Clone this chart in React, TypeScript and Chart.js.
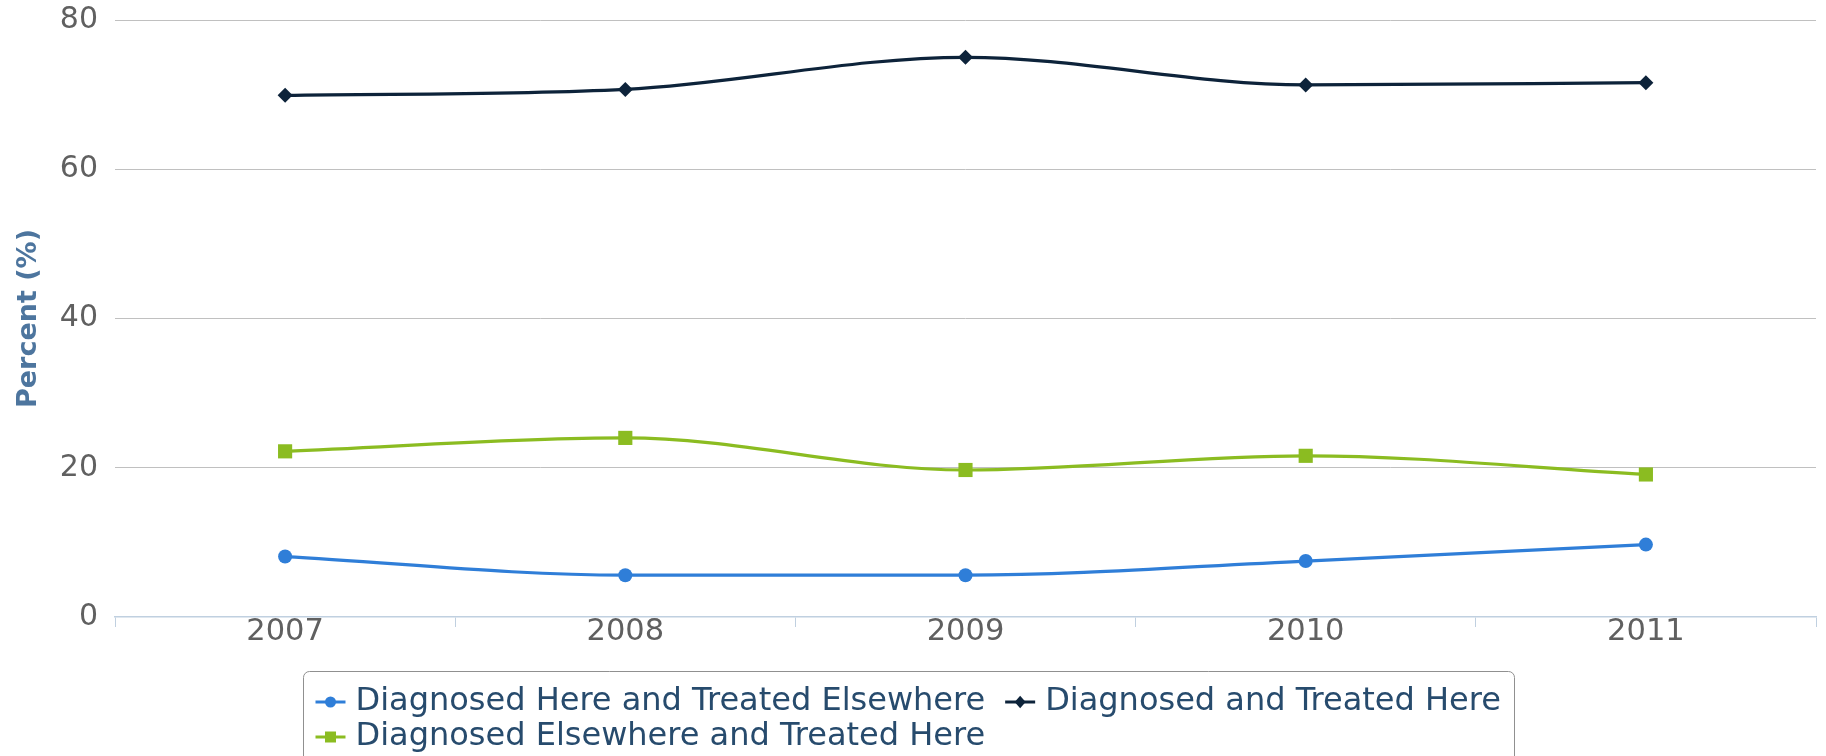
import React, { useEffect, useRef } from "react";
import { Chart, registerables } from "chart.js";

Chart.register(...registerables);

const years = ["2007", "2008", "2009", "2010", "2011"];
const hereElsewhere = [8.1, 5.6, 5.6, 7.5, 9.7];
const hereHere = [69.9, 70.7, 75.0, 71.3, 71.6];
const elsewhereHere = [22.2, 24.0, 19.7, 21.6, 19.1];
const seriesNames = [
  "Diagnosed Here and Treated Elsewhere",
  "Diagnosed and Treated Here",
  "Diagnosed Elsewhere and Treated Here",
];
const seriesColors = ["#2f7ed8", "#0d233a", "#8bbc21"];
const seriesStyles = ["circle", "rectRot", "rect"];
const yTicks = [0, 20, 40, 60, 80];

const FONT = '"DejaVu Sans", Verdana, sans-serif';

function drawMarker(ctx: CanvasRenderingContext2D, style: string, x: number, y: number, r: number) {
  ctx.beginPath();
  if (style === "circle") {
    ctx.arc(x, y, r, 0, Math.PI * 2);
  } else if (style === "rectRot") {
    ctx.moveTo(x - r, y);
    ctx.lineTo(x, y - r * 1.15);
    ctx.lineTo(x + r, y);
    ctx.lineTo(x, y + r * 1.15);
    ctx.closePath();
  } else {
    ctx.rect(x - r, y - r, 2 * r, 2 * r);
  }
  ctx.fill();
}

const boxLegend = {
  id: "boxLegend",
  afterDraw(chart: any) {
    const ctx: CanvasRenderingContext2D = chart.ctx;
    const left = chart.chartArea.left;
    ctx.save();
    const bx = left + 188.5;
    const by = 671.5;
    ctx.beginPath();
    (ctx as any).roundRect(bx, by, 1211, 110, 6);
    ctx.strokeStyle = "#909090";
    ctx.lineWidth = 1;
    ctx.stroke();
    ctx.font = "32px " + FONT;
    ctx.textBaseline = "middle";
    ctx.textAlign = "left";
    const rows = [[0, 1], [2]];
    const rowY = [702, 737];
    rows.forEach((row, ri) => {
      let x = bx + 10;
      row.forEach((di) => {
        const ds = chart.data.datasets[di];
        const y = rowY[ri];
        ctx.strokeStyle = ds.borderColor;
        ctx.fillStyle = ds.borderColor;
        ctx.lineWidth = 3;
        ctx.beginPath();
        ctx.moveTo(x + 2, y);
        ctx.lineTo(x + 32, y);
        ctx.stroke();
        drawMarker(ctx, ds.pointStyle, x + 17, y, 5.5);
        ctx.fillStyle = "#274b6d";
        ctx.fillText(ds.label, x + 42, y);
        x += 42 + ctx.measureText(ds.label).width + 18;
      });
    });
    ctx.restore();
  },
};

export default function App() {
  const ref = useRef<HTMLCanvasElement>(null);
  useEffect(() => {
    if (!ref.current) return;
    const values = [hereElsewhere, hereHere, elsewhereHere];
    const chart = new Chart(ref.current, {
      type: "line",
      data: {
        labels: years,
        datasets: values.map((v, i) => ({
          label: seriesNames[i],
          data: v,
          borderColor: seriesColors[i],
          backgroundColor: seriesColors[i],
          pointBackgroundColor: seriesColors[i],
          pointBorderColor: seriesColors[i],
          pointStyle: seriesStyles[i] as any,
          pointRadius: i === 2 ? 10 : i === 1 ? 7.5 : 7,
          pointBorderWidth: 0,
          borderWidth: 3.2,
          tension: 0.4,
          cubicInterpolationMode: "monotone" as any,
          fill: false,
        })),
      },
      options: {
        responsive: false,
        animation: false,
        devicePixelRatio: 1,
        layout: { padding: { top: 20, right: 8, left: 0, bottom: 89 } },
        plugins: {
          legend: { display: false },
          tooltip: { enabled: false },
        },
        scales: {
          x: {
            type: "category",
            offset: true,
            grid: {
              offset: true,
              drawOnChartArea: false,
              drawTicks: true,
              tickLength: 10,
              color: "#C0D0E0",
            },
            border: { display: true, color: "#C0D0E0", width: 1.5 },
            ticks: {
              font: { family: FONT, size: 30.5 },
              color: "#606060",
              padding: -13,
              maxRotation: 0,
            },
            afterFit: (s: any) => {
              s.height = 50;
              s.paddingLeft = 0;
              s.paddingRight = 0;
            },
          },
          y: {
            min: 0,
            max: 80,
            afterBuildTicks: (s: any) => {
              s.ticks = yTicks.map((v) => ({ value: v }));
            },
            grid: {
              drawTicks: false,
              color: (c: any) => (c.tick && c.tick.value === 0 ? "rgba(0,0,0,0)" : "#C0C0C0"),
              lineWidth: 1,
            },
            border: { display: false },
            ticks: {
              font: { family: FONT, size: 30 },
              color: "#606060",
              padding: 17,
            },
            title: {
              display: true,
              text: "Percent (%)",
              color: "#4d759e",
              font: { family: FONT, size: 27, weight: "bold" },
              padding: { top: 13, bottom: 0 },
            },
            afterFit: (s: any) => {
              s.width = 115;
              s.paddingTop = 0;
              s.paddingBottom = 0;
            },
          },
        },
      },
      plugins: [boxLegend],
    });
    return () => chart.destroy();
  }, []);
  return (
    <div style={{ position: "absolute", left: 0, top: 0, width: 1826, height: 756, background: "#fff" }}>
      <canvas ref={ref} width={1826} height={756} />
    </div>
  );
}
